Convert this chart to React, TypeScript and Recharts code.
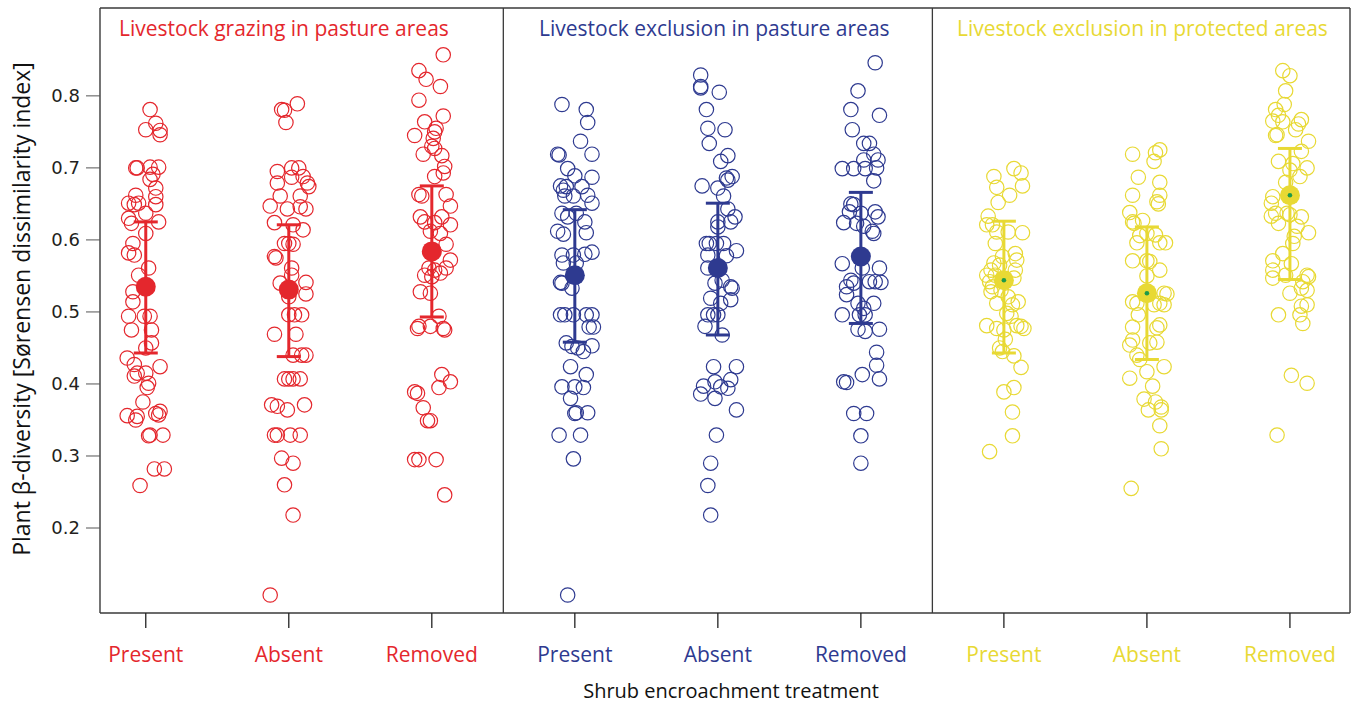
import React from 'react';
import { ScatterChart, Scatter, XAxis, YAxis, ErrorBar, ReferenceLine } from 'recharts';

// ---- categories / labels ----
const shrubLevels = ['Present', 'Absent', 'Removed'];
const panelTitles = [
  'Livestock grazing in pasture areas',
  'Livestock exclusion in pasture areas',
  'Livestock exclusion in protected areas',
];
const yTicks = [0.2, 0.3, 0.4, 0.5, 0.6, 0.7, 0.8];
const xAxisTitle = 'Shrub encroachment treatment';
const yAxisTitle = 'Plant β-diversity [Sørensen dissimilarity index]';

// ---- raw observations: [horizontal jitter (category units), β-diversity] ----
const redPresent = [[0.03,0.781],[0.07,0.762],[0.00,0.753],[0.10,0.752],[0.10,0.746],[-0.06,0.700],[-0.07,0.700],[0.03,0.701],[0.09,0.701],[0.05,0.691],[0.03,0.684],[0.07,0.672],[0.07,0.660],[-0.07,0.662],[-0.12,0.651],[-0.08,0.649],[-0.05,0.651],[0.07,0.649],[0.00,0.637],[-0.12,0.630],[-0.10,0.623],[0.09,0.625],[0.00,0.609],[-0.09,0.595],[-0.12,0.582],[-0.08,0.579],[0.02,0.561],[-0.05,0.551],[-0.09,0.528],[-0.09,0.514],[-0.12,0.494],[-0.01,0.494],[0.03,0.494],[-0.10,0.475],[0.04,0.475],[0.04,0.457],[0.00,0.450],[-0.13,0.436],[0.10,0.424],[-0.08,0.427],[-0.06,0.415],[-0.08,0.411],[0.00,0.415],[0.02,0.401],[0.01,0.395],[-0.02,0.375],[-0.13,0.356],[-0.06,0.355],[-0.07,0.350],[0.07,0.359],[0.10,0.362],[0.09,0.357],[0.03,0.329],[0.02,0.328],[0.12,0.329],[0.06,0.282],[0.13,0.282],[-0.04,0.259]];
const redAbsent = [[0.06,0.789],[-0.05,0.781],[-0.03,0.780],[-0.02,0.763],[-0.08,0.695],[0.02,0.700],[0.07,0.700],[0.10,0.688],[0.02,0.687],[-0.08,0.679],[0.13,0.679],[0.14,0.674],[-0.06,0.661],[0.08,0.661],[-0.13,0.647],[-0.01,0.643],[0.08,0.646],[0.12,0.643],[-0.10,0.624],[0.10,0.614],[0.03,0.621],[-0.03,0.595],[0.00,0.595],[0.03,0.594],[-0.10,0.577],[-0.09,0.575],[0.02,0.561],[0.02,0.551],[-0.06,0.540],[0.12,0.541],[0.12,0.525],[0.00,0.521],[0.00,0.496],[0.04,0.496],[0.09,0.496],[-0.10,0.469],[0.05,0.469],[0.03,0.440],[0.09,0.440],[0.12,0.440],[-0.03,0.407],[0.00,0.407],[0.03,0.407],[0.08,0.407],[-0.12,0.371],[-0.08,0.369],[-0.01,0.364],[0.11,0.371],[-0.10,0.329],[-0.08,0.329],[0.01,0.329],[0.08,0.329],[-0.05,0.297],[0.03,0.290],[-0.03,0.260],[0.03,0.218],[-0.13,0.107]];
const redRemoved = [[0.08,0.857],[-0.09,0.835],[-0.04,0.823],[0.06,0.813],[-0.09,0.794],[0.08,0.772],[-0.05,0.764],[0.03,0.755],[0.02,0.750],[-0.12,0.745],[0.01,0.741],[0.00,0.730],[0.02,0.727],[-0.06,0.719],[0.07,0.717],[0.09,0.702],[0.08,0.693],[0.02,0.688],[-0.09,0.663],[-0.07,0.661],[0.10,0.663],[0.13,0.647],[-0.08,0.632],[0.07,0.632],[-0.05,0.625],[0.02,0.624],[0.13,0.621],[-0.01,0.612],[0.06,0.609],[0.10,0.594],[0.13,0.572],[0.10,0.561],[-0.02,0.561],[0.02,0.558],[-0.05,0.551],[0.06,0.554],[0.00,0.549],[-0.08,0.528],[-0.01,0.526],[0.05,0.494],[-0.10,0.477],[-0.09,0.480],[-0.01,0.480],[0.08,0.477],[0.09,0.475],[0.07,0.413],[0.13,0.403],[0.05,0.395],[-0.12,0.389],[-0.10,0.387],[-0.06,0.367],[-0.03,0.349],[-0.01,0.349],[-0.12,0.295],[-0.09,0.295],[0.03,0.295],[0.09,0.246]];
const bluePresent = [[-0.09,0.788],[0.08,0.781],[0.09,0.763],[0.04,0.737],[-0.12,0.719],[-0.11,0.718],[0.12,0.719],[-0.05,0.699],[0.00,0.689],[0.12,0.687],[-0.10,0.675],[-0.06,0.674],[0.05,0.674],[-0.08,0.669],[-0.07,0.661],[-0.01,0.661],[0.09,0.662],[0.12,0.651],[-0.09,0.637],[-0.05,0.632],[0.01,0.637],[0.07,0.625],[-0.12,0.612],[-0.08,0.608],[0.08,0.610],[0.12,0.583],[-0.09,0.579],[-0.01,0.579],[0.07,0.580],[-0.08,0.568],[0.01,0.568],[-0.10,0.541],[-0.09,0.540],[-0.02,0.533],[-0.10,0.496],[-0.07,0.496],[-0.01,0.496],[0.08,0.496],[0.12,0.496],[0.10,0.479],[0.13,0.479],[-0.06,0.457],[-0.02,0.452],[0.02,0.450],[0.06,0.445],[0.12,0.453],[-0.03,0.424],[0.08,0.413],[-0.09,0.396],[0.00,0.396],[0.06,0.395],[-0.03,0.380],[0.00,0.359],[0.01,0.360],[0.09,0.360],[-0.11,0.329],[0.04,0.329],[-0.01,0.296],[-0.05,0.107]];
const blueAbsent = [[-0.12,0.829],[-0.12,0.813],[-0.12,0.811],[0.01,0.805],[-0.08,0.781],[-0.07,0.755],[0.05,0.753],[-0.06,0.734],[0.07,0.717],[0.02,0.709],[0.06,0.686],[0.10,0.688],[0.07,0.683],[-0.11,0.675],[0.00,0.672],[0.04,0.661],[0.07,0.643],[0.12,0.632],[0.09,0.625],[0.00,0.625],[0.00,0.618],[-0.08,0.595],[-0.06,0.595],[-0.01,0.595],[0.04,0.595],[0.13,0.585],[-0.07,0.579],[0.06,0.578],[-0.07,0.561],[-0.02,0.540],[0.03,0.544],[0.09,0.535],[0.10,0.533],[-0.05,0.519],[0.09,0.517],[0.02,0.512],[-0.07,0.496],[-0.03,0.496],[0.00,0.496],[-0.09,0.480],[0.03,0.468],[-0.03,0.424],[0.13,0.424],[-0.02,0.403],[0.09,0.406],[-0.10,0.397],[0.02,0.396],[0.07,0.394],[-0.12,0.386],[-0.02,0.380],[0.13,0.364],[-0.01,0.329],[-0.05,0.290],[-0.07,0.259],[-0.05,0.218]];
const blueRemoved = [[0.10,0.846],[-0.02,0.807],[-0.07,0.781],[0.13,0.773],[-0.06,0.753],[0.02,0.734],[0.06,0.734],[0.09,0.719],[0.02,0.711],[0.12,0.711],[-0.13,0.699],[-0.05,0.699],[0.03,0.699],[0.11,0.700],[0.09,0.682],[-0.07,0.650],[-0.05,0.649],[-0.08,0.639],[0.00,0.637],[0.10,0.639],[0.12,0.632],[-0.12,0.624],[-0.03,0.623],[0.02,0.619],[0.08,0.612],[0.09,0.609],[-0.13,0.567],[0.01,0.561],[0.13,0.561],[-0.07,0.544],[-0.10,0.535],[-0.05,0.540],[0.06,0.542],[0.10,0.542],[0.14,0.541],[-0.10,0.524],[-0.02,0.512],[0.09,0.512],[0.02,0.505],[-0.13,0.496],[-0.01,0.496],[0.03,0.496],[-0.02,0.476],[0.03,0.473],[0.13,0.476],[0.11,0.444],[0.11,0.426],[0.01,0.413],[0.13,0.407],[-0.12,0.403],[-0.10,0.402],[-0.05,0.359],[0.04,0.359],[0.00,0.328],[0.00,0.290]];
const yellowPresent = [[0.07,0.699],[0.12,0.693],[-0.07,0.688],[0.13,0.675],[-0.05,0.673],[0.04,0.662],[-0.04,0.652],[-0.11,0.633],[-0.12,0.621],[-0.08,0.621],[-0.05,0.611],[0.03,0.611],[0.13,0.610],[-0.06,0.595],[0.08,0.581],[-0.01,0.577],[0.09,0.572],[-0.07,0.568],[-0.03,0.565],[0.08,0.558],[-0.09,0.558],[-0.12,0.551],[-0.06,0.551],[0.07,0.547],[-0.10,0.542],[-0.08,0.535],[-0.02,0.530],[-0.09,0.528],[0.03,0.521],[0.10,0.514],[-0.05,0.512],[0.06,0.510],[0.02,0.498],[0.05,0.494],[-0.12,0.481],[-0.05,0.477],[0.00,0.475],[0.09,0.481],[0.12,0.480],[0.14,0.477],[0.01,0.462],[-0.03,0.450],[-0.01,0.445],[0.07,0.439],[0.12,0.423],[0.00,0.389],[0.07,0.395],[0.06,0.361],[0.06,0.328],[-0.10,0.306]];
const yellowAbsent = [[-0.10,0.719],[0.09,0.725],[0.06,0.721],[0.05,0.709],[-0.06,0.687],[0.09,0.680],[-0.10,0.662],[0.09,0.662],[0.07,0.653],[0.08,0.650],[-0.12,0.638],[-0.10,0.625],[-0.03,0.627],[-0.09,0.623],[-0.05,0.606],[0.00,0.609],[0.06,0.607],[-0.07,0.596],[0.09,0.596],[0.13,0.596],[-0.10,0.571],[0.00,0.571],[0.02,0.570],[0.09,0.558],[0.00,0.550],[0.12,0.526],[0.14,0.525],[-0.10,0.514],[-0.07,0.512],[0.09,0.512],[0.12,0.510],[0.05,0.510],[-0.06,0.496],[-0.10,0.479],[0.09,0.482],[0.07,0.478],[-0.10,0.461],[0.02,0.457],[0.07,0.458],[-0.12,0.454],[-0.07,0.440],[-0.05,0.434],[0.00,0.417],[0.12,0.424],[-0.12,0.408],[0.04,0.397],[-0.02,0.379],[0.06,0.375],[0.01,0.364],[0.10,0.368],[0.10,0.364],[0.09,0.342],[0.10,0.310],[-0.11,0.255]];
const yellowRemoved = [[-0.05,0.835],[0.00,0.828],[-0.03,0.807],[-0.04,0.788],[-0.10,0.781],[-0.08,0.773],[-0.05,0.764],[-0.12,0.765],[0.08,0.767],[0.06,0.761],[0.04,0.753],[-0.09,0.746],[-0.10,0.745],[0.13,0.737],[0.08,0.723],[-0.08,0.709],[0.02,0.706],[0.12,0.700],[0.00,0.697],[0.07,0.688],[-0.03,0.680],[-0.12,0.660],[-0.13,0.651],[-0.10,0.637],[-0.13,0.633],[-0.02,0.637],[0.00,0.635],[-0.08,0.623],[0.08,0.632],[0.05,0.619],[0.13,0.610],[0.03,0.605],[0.02,0.595],[-0.05,0.581],[-0.12,0.571],[0.01,0.567],[-0.12,0.558],[-0.12,0.547],[-0.03,0.551],[0.12,0.551],[0.13,0.549],[0.09,0.542],[0.08,0.533],[0.00,0.526],[0.12,0.530],[0.12,0.510],[0.08,0.508],[-0.08,0.496],[0.07,0.496],[0.09,0.484],[0.01,0.412],[0.12,0.401],[-0.09,0.329]];

// ---- group summaries: [mean, lower, upper] ----
const redMeans = [[0.535,0.443,0.625],[0.531,0.438,0.621],[0.584,0.493,0.675]];
const blueMeans = [[0.551,0.458,0.642],[0.561,0.468,0.651],[0.577,0.484,0.666]];
const yellowMeans = [[0.544,0.443,0.626],[0.526,0.434,0.618],[0.662,0.545,0.727]];

const RED = '#E4272D';
const BLUE = '#2E3A90';
const YELLOW = '#E8D934';
const GREEN = '#1E9A4A';
const panelColors = [RED, BLUE, YELLOW];
const AXIS = '#3a3a3a';
const FONT = '"Open Sans", "Noto Sans", sans-serif';

const groups = [
  { obs: redPresent, color: RED }, { obs: redAbsent, color: RED }, { obs: redRemoved, color: RED },
  { obs: bluePresent, color: BLUE }, { obs: blueAbsent, color: BLUE }, { obs: blueRemoved, color: BLUE },
  { obs: yellowPresent, color: YELLOW }, { obs: yellowAbsent, color: YELLOW }, { obs: yellowRemoved, color: YELLOW },
];
const meanSets = [redMeans, blueMeans, yellowMeans];

const pointData = groups.map((g, i) => g.obs.map(([j, v]) => ({ x: i + j, y: v })));
const meanData = meanSets.map((set, p) =>
  set.map(([m, lo, hi], k) => ({ x: p * 3 + k, y: m, err: [m - lo, hi - m] }))
);

const X_DOMAIN = [-0.32, 8.42];
const Y_DOMAIN = [0.082, 0.922];

const openCircle = (color) => (props) => (
  <circle cx={props.cx} cy={props.cy} r={7.2} fill="none" stroke={color} strokeWidth={1.2} />
);
const meanDot = (color, inner) => (props) => (
  <g>
    <circle cx={props.cx} cy={props.cy} r={10} fill={color} stroke="none" />
    {inner ? <circle cx={props.cx} cy={props.cy} r={2.3} fill={inner} /> : null}
  </g>
);

const XTick = (props) => {
  const { x, y, payload } = props;
  const v = Math.round(payload.value);
  return (
    <text x={x} y={y} dy={32} textAnchor="middle" fontFamily={FONT} fontSize={21} fill={panelColors[Math.floor(v / 3)]}>
      {shrubLevels[v % 3]}
    </text>
  );
};

export default function App() {
  return (
    <div style={{ position: 'absolute', left: 0, top: 0, width: 1354, height: 706, background: '#fff' }}>
      <ScatterChart width={1354} height={706} margin={{ top: 8, right: 4, bottom: 13, left: 0 }}>
        <XAxis
          type="number"
          dataKey="x"
          domain={X_DOMAIN}
          ticks={[0, 1, 2, 3, 4, 5, 6, 7, 8]}
          allowDataOverflow
          height={80}
          tick={<XTick />}
          tickSize={15}
          tickLine={{ stroke: '#222', strokeWidth: 1.3 }}
          axisLine={{ stroke: AXIS, strokeWidth: 1.4 }}
          interval={0}
        />
        <YAxis
          type="number"
          dataKey="y"
          domain={Y_DOMAIN}
          ticks={yTicks}
          allowDataOverflow
          width={100}
          tickSize={14}
          tickMargin={6}
          tickFormatter={(v) => v.toFixed(1)}
          tick={{ fontFamily: '"DejaVu Sans", sans-serif', fontSize: 18, fill: '#231f20' }}
          tickLine={{ stroke: '#555', strokeWidth: 1 }}
          axisLine={{ stroke: AXIS, strokeWidth: 1.4 }}
        />
        <ReferenceLine x={2.5} stroke={AXIS} strokeWidth={1.3} />
        <ReferenceLine x={5.5} stroke={AXIS} strokeWidth={1.3} />
        <ReferenceLine x={X_DOMAIN[1]} stroke={AXIS} strokeWidth={1.4} />
        <ReferenceLine y={Y_DOMAIN[1]} stroke={AXIS} strokeWidth={1.4} />
        {pointData.map((d, i) => (
          <Scatter key={'p' + i} data={d} isAnimationActive={false} shape={openCircle(groups[i].color)} />
        ))}
        {meanData.map((d, p) => (
          <Scatter
            key={'m' + p}
            data={d}
            isAnimationActive={false}
            shape={meanDot(panelColors[p], p === 2 ? GREEN : null)}
          >
            <ErrorBar dataKey="err" direction="y" width={12} strokeWidth={3} stroke={panelColors[p]} isAnimationActive={false} />
          </Scatter>
        ))}
      </ScatterChart>
      <svg width={1354} height={706} style={{ position: 'absolute', left: 0, top: 0, pointerEvents: 'none' }}>
        {panelTitles.map((t, i) => (
          <text key={t} x={[119, 539, 957][i]} y={36} fontFamily={FONT} fontSize={21} fill={panelColors[i]}>
            {t}
          </text>
        ))}
        <text x={731} y={698} textAnchor="middle" fontFamily={FONT} fontSize={20} fill="#111">
          {xAxisTitle}
        </text>
        <text x={0} y={0} transform="translate(30,309) rotate(-90)" textAnchor="middle" fontFamily={FONT} fontSize={23} fill="#111">
          {yAxisTitle}
        </text>
      </svg>
    </div>
  );
}
